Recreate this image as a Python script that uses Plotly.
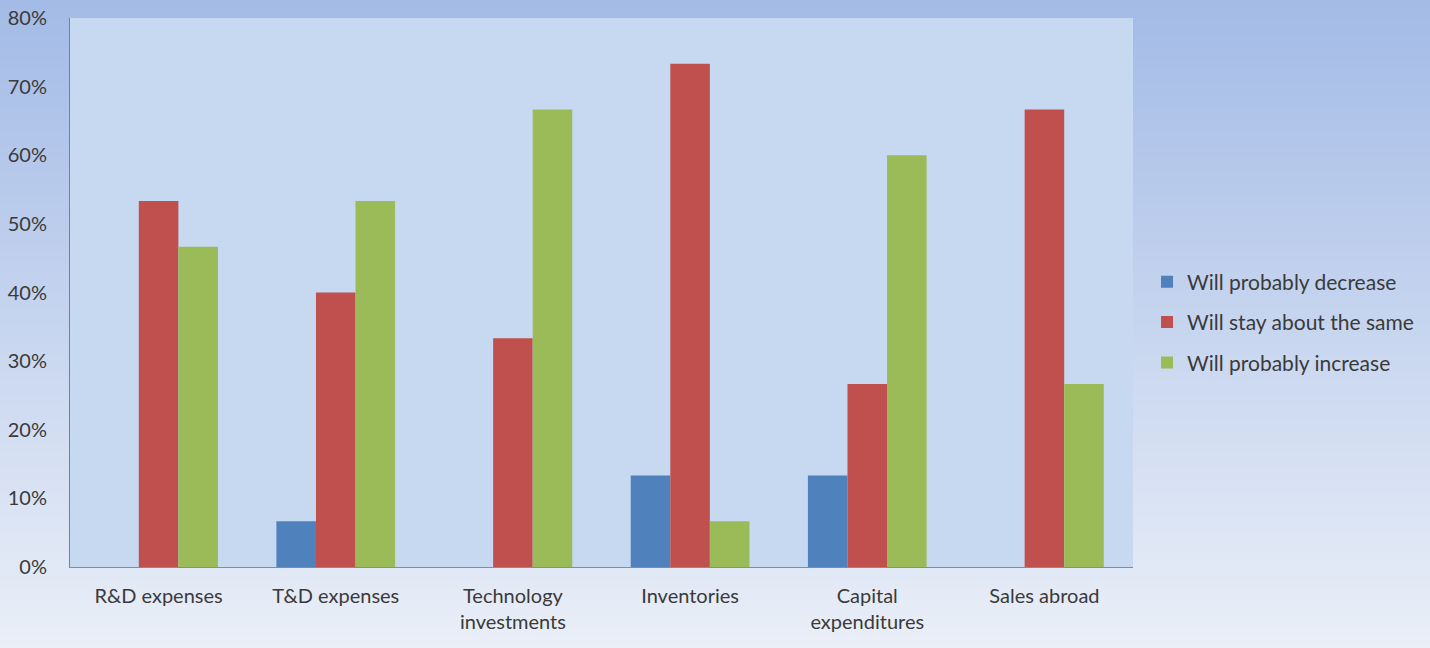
import base64, struct, zlib
import plotly.graph_objects as go

categories = ["R&D expenses", "T&D expenses", "Technology<br>investments",
              "Inventories", "Capital<br>expenditures", "Sales abroad"]
decrease = [0, 6.67, 0, 13.33, 13.33, 0]
same = [53.33, 40.0, 33.33, 73.33, 26.67, 66.67]
increase = [46.67, 53.33, 66.67, 6.67, 60.0, 26.67]
series_names = ["Will probably decrease", "Will stay about the same", "Will probably increase"]
colors = ["#4f81bd", "#c0504d", "#9bbb59"]
tick_vals = [0, 10, 20, 30, 40, 50, 60, 70, 80]
tick_text = ["0%", "10%", "20%", "30%", "40%", "50%", "60%", "70%", "80%"]

W, H = 1430, 648


def gradient_png(h, top, bottom):
    rows = b""
    for i in range(h):
        t = i / (h - 1)
        c = [round(top[k] + (bottom[k] - top[k]) * t) for k in range(3)]
        rows += b"\x00" + bytes(c) * 4
    def chunk(tag, data):
        return struct.pack(">I", len(data)) + tag + data + struct.pack(">I", zlib.crc32(tag + data) & 0xffffffff)
    png = b"\x89PNG\r\n\x1a\n" + chunk(b"IHDR", struct.pack(">IIBBBBB", 4, h, 8, 2, 0, 0, 0))
    png += chunk(b"IDAT", zlib.compress(rows)) + chunk(b"IEND", b"")
    return "data:image/png;base64," + base64.b64encode(png).decode()


fig = go.Figure()
for i, (name, vals) in enumerate(zip(series_names, [decrease, same, increase])):
    fig.add_trace(go.Bar(x=categories, y=vals, name=name, marker_color=colors[i],
                         marker_line_width=0, legendgroup=str(i)))

ml, mr, mt, mb = 70, 297, 18, 81
pw, ph = W - ml - mr, H - mt - mb
fig.add_layout_image(dict(
    source=gradient_png(256, (163, 187, 230), (234, 239, 248)),
    xref="paper", yref="paper", x=-ml / pw, y=1 + mt / ph,
    sizex=W / pw, sizey=H / ph, sizing="stretch", layer="below",
    xanchor="left", yanchor="top"))
fig.add_shape(type="rect", xref="paper", yref="paper", x0=0, x1=1, y0=0, y1=1,
              fillcolor="#c7d9f0", line_width=0, layer="below")

fig.update_layout(
    width=W, height=H,
    margin=dict(l=ml, r=mr, t=mt, b=mb, autoexpand=False),
    barmode="group", bargap=0.33, bargroupgap=0,
    paper_bgcolor="#b8cbec", plot_bgcolor="rgba(0,0,0,0)",
    font=dict(family="Lato, Open Sans, sans-serif", size=20, color="#3a3a3a"),
    showlegend=True,
    legend=dict(x=1.0132, y=0.446, xanchor="left", yanchor="middle",
                bgcolor="rgba(0,0,0,0)", tracegroupgap=10,
                font=dict(size=21, color="#3a3a3a"), itemwidth=30),
    xaxis=dict(showgrid=False, showline=True, linecolor="#8c8c8c", linewidth=1,
               ticks="", ticklabelstandoff=11, fixedrange=True, automargin=False),
    yaxis=dict(range=[0, 80], tickvals=tick_vals, ticktext=tick_text,
               showgrid=False, showline=True, linecolor="#7f7f7f", linewidth=1,
               ticks="", ticklabelstandoff=18, zeroline=False, automargin=False),
)

fig.write_html("out.html", config={"displayModeBar": False},
               post_script="document.body.style.margin='0';")
